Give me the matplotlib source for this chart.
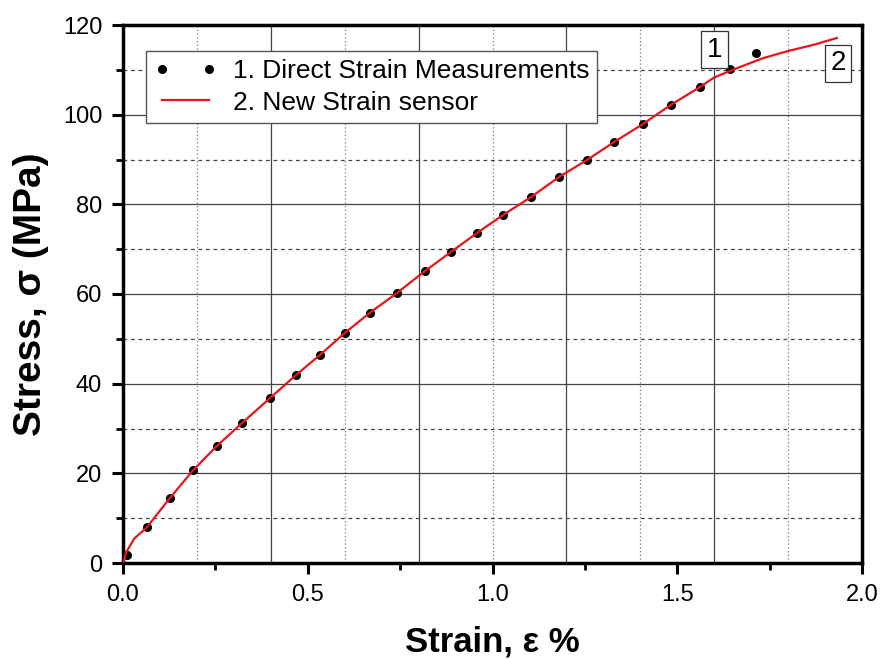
import matplotlib.pyplot as plt

# measured points (direct strain)
strain_direct = [0.01, 0.065, 0.127, 0.19, 0.254, 0.322, 0.398, 0.468, 0.533, 0.60,
                 0.668, 0.741, 0.817, 0.888, 0.958, 1.028, 1.104, 1.18, 1.256, 1.329,
                 1.407, 1.483, 1.562, 1.643, 1.713]
stress_direct = [1.8, 8.0, 14.5, 20.7, 26.1, 31.2, 36.8, 41.9, 46.4, 51.3,
                 55.8, 60.2, 65.1, 69.4, 73.6, 77.6, 81.6, 86.1, 89.9, 93.9,
                 97.9, 102.2, 106.2, 110.2, 113.8]

# new strain sensor curve
strain_sensor = [0.0, 0.01, 0.03, 0.065, 0.127, 0.19, 0.254, 0.322, 0.398, 0.468, 0.533, 0.60,
                 0.668, 0.741, 0.817, 0.888, 0.958, 1.028, 1.104, 1.18, 1.256, 1.329,
                 1.407, 1.483, 1.562, 1.60, 1.65, 1.732, 1.80, 1.87, 1.932]
stress_sensor = [0.0, 2.6, 5.4, 8.0, 14.5, 20.7, 26.1, 31.2, 36.8, 41.9, 46.4, 51.3,
                 55.8, 60.2, 65.1, 69.4, 73.6, 77.6, 81.6, 86.1, 89.9, 93.9,
                 97.9, 102.2, 106.2, 108.3, 110.0, 112.6, 114.2, 115.6, 117.1]

xticks = [0.0, 0.5, 1.0, 1.5, 2.0]
yticks = [0, 20, 40, 60, 80, 100, 120]
vgrid_solid = [0.4, 0.8, 1.2, 1.6]
vgrid_dotted = [0.2, 0.6, 1.0, 1.4, 1.8]
hgrid_solid = [20, 40, 60, 80, 100]
hgrid_dashed = [10, 30, 50, 70, 90, 110]

plt.rcParams['font.family'] = 'Liberation Sans'

fig = plt.figure(figsize=(8.82, 6.59), dpi=100)
ax = fig.add_axes([123 / 882, 1 - 563 / 659, 739 / 882, 538 / 659])

for x in vgrid_solid:
    ax.axvline(x, color='#444444', lw=0.9, zorder=1)
for x in vgrid_dotted:
    ax.axvline(x, color='#777777', lw=0.9, ls=(0, (1, 2)), zorder=1)
for y in hgrid_solid:
    ax.axhline(y, color='#444444', lw=0.9, zorder=1)
for y in hgrid_dashed:
    ax.axhline(y, color='#444444', lw=0.9, ls=(0, (3, 3)), zorder=1)

ax.plot(strain_direct, stress_direct, 'o', color='black', markersize=5.5,
        label='1. Direct Strain Measurements', zorder=3)
ax.plot(strain_sensor, stress_sensor, '-', color='#e8141b', lw=1.6,
        label='2. New Strain sensor', zorder=4)

ax.set_xlim(0, 2.0)
ax.set_ylim(0, 120)
ax.set_xticks(xticks)
ax.set_xticks([0.25, 0.75, 1.25, 1.75], minor=True)
ax.set_yticks(yticks)
ax.set_yticks([10, 30, 50, 70, 90, 110], minor=True)
ax.set_xticklabels([f'{v:.1f}' for v in xticks])
ax.tick_params(which='major', direction='out', length=8, width=2.2,
               labelsize=17, pad=7)
ax.tick_params(which='minor', direction='out', length=5, width=2.0)
for s in ax.spines.values():
    s.set_linewidth(2.5)

ax.set_xlabel('Strain, ε %', fontsize=25, fontweight='bold', labelpad=14)
ax.set_ylabel('Stress, σ (MPa)', fontsize=28, fontweight='bold', labelpad=10)

leg = ax.legend(loc='upper left', bbox_to_anchor=(0.031, 0.952), numpoints=2,
                prop={'size': 19}, fancybox=False,
                framealpha=1, edgecolor='#555555', handlelength=2.4,
                borderpad=0.3, labelspacing=0.3, handletextpad=0.6,
                borderaxespad=0)
leg.get_frame().set_linewidth(1.0)

box = dict(boxstyle='square,pad=0.2', fc='white', ec='#333333', lw=0.9)
ax.text(1.6, 114.5, '1', fontsize=20, ha='center',
        va='center', bbox=box, zorder=5)
ax.text(1.935, 111.5, '2', fontsize=20, ha='center',
        va='center', bbox=box, zorder=5)

fig.savefig('out.png', dpi=100)
